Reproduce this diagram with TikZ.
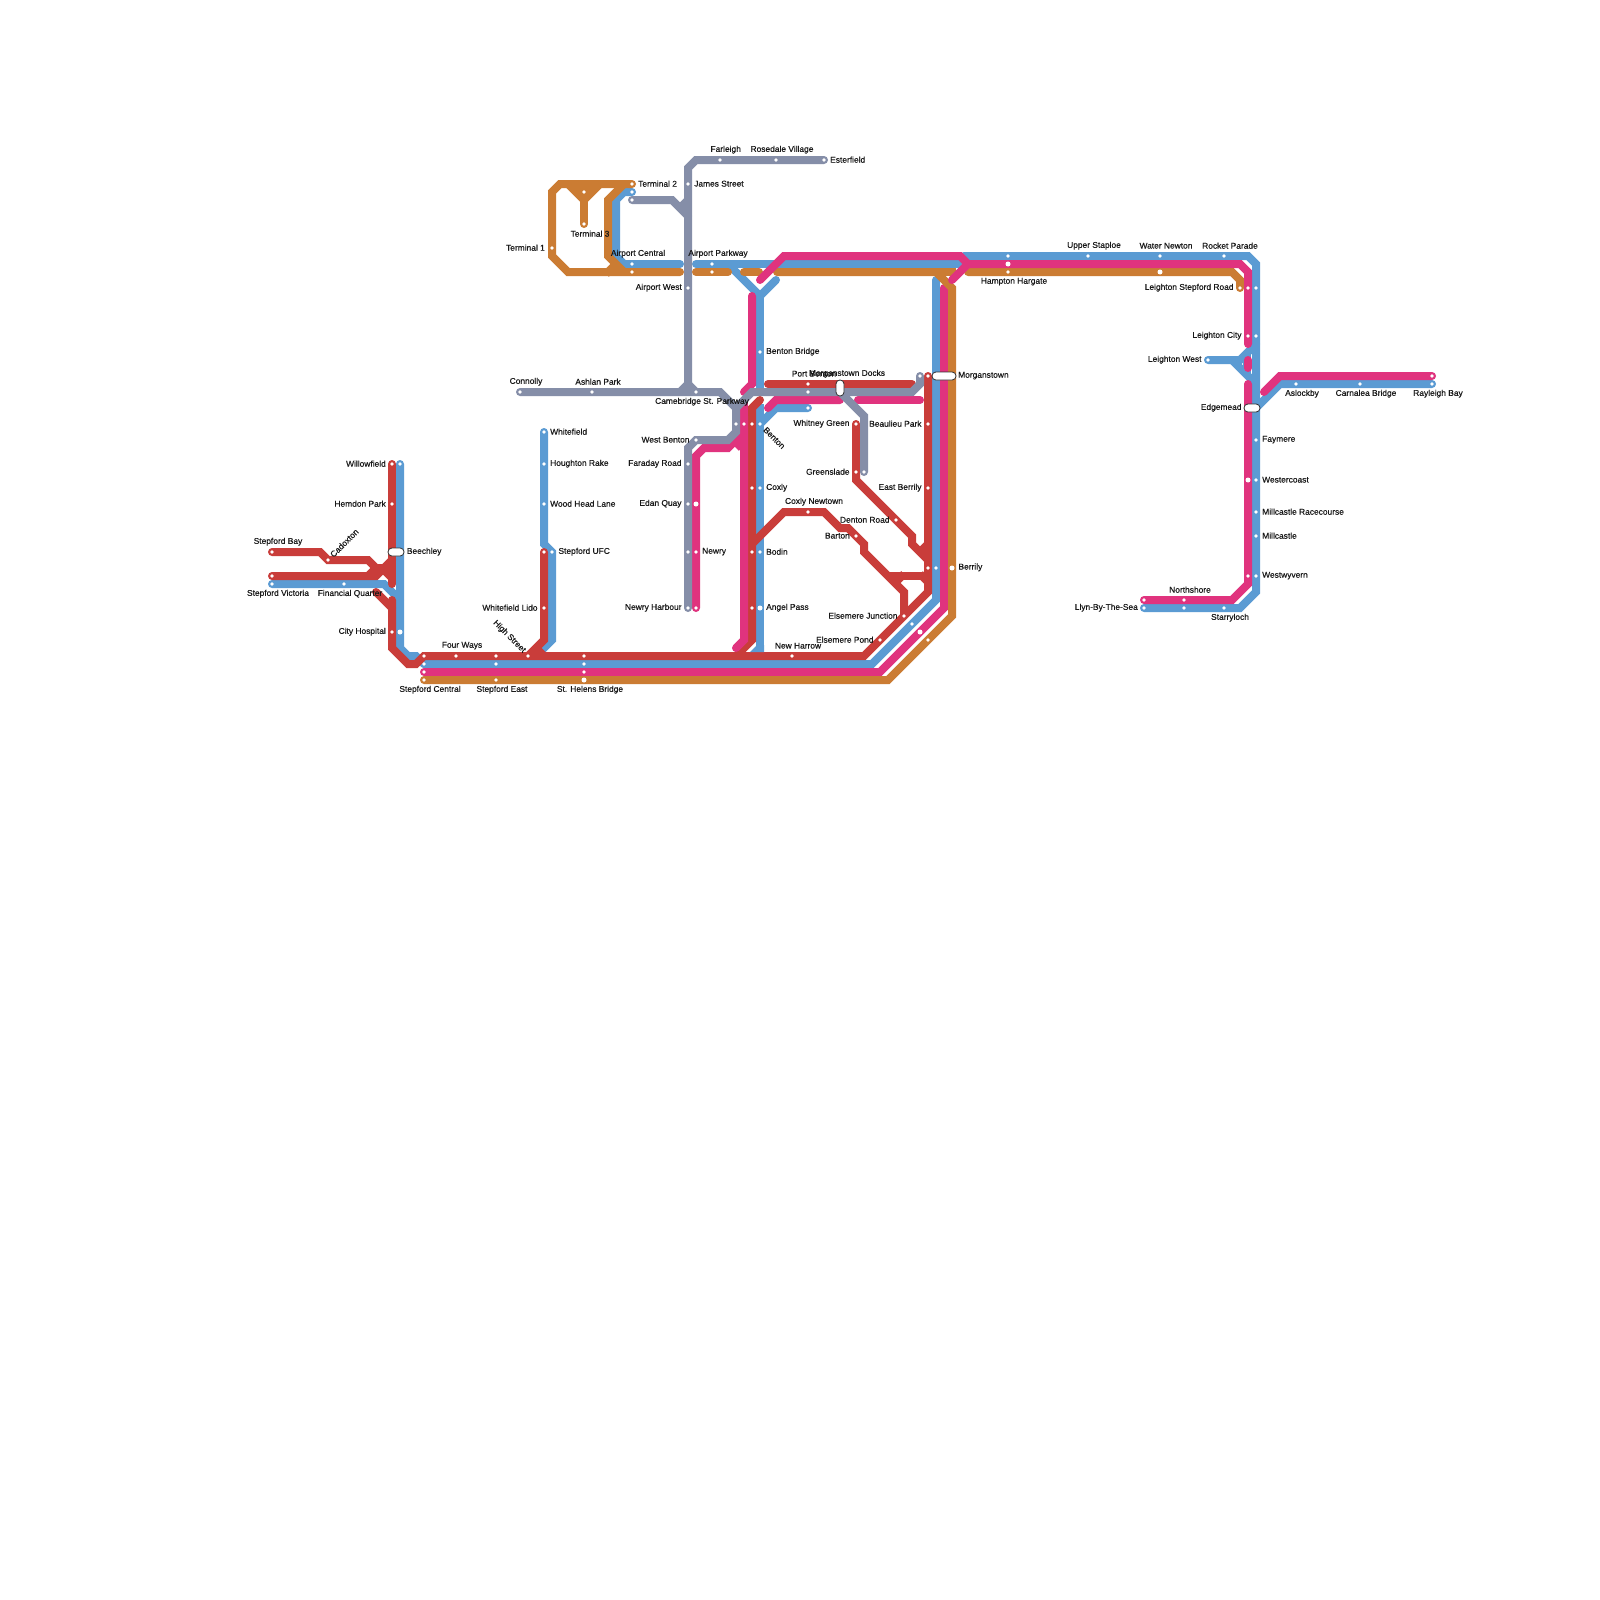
\documentclass[tikz,border=0pt]{standalone}
\usepackage{fontspec}
\newfontfamily\stnfont[FakeBold=0.45]{Liberation Sans}
\definecolor{redline}{HTML}{C93D3A}
\definecolor{blueline}{HTML}{5B9BD3}
\definecolor{pinkline}{HTML}{E0337E}
\definecolor{orangeline}{HTML}{CB7C33}
\definecolor{grayline}{HTML}{858EA8}
\begin{document}
\begin{tikzpicture}[x=1pt,y=-1pt,font=\stnfont\fontsize{8.4}{10}\selectfont,
	ln/.style={line width=8pt,line cap=round,miter limit=4},
	stub/.style={line width=8pt},
	dot/.style={circle,fill=white,inner sep=0pt,minimum size=3.6pt},
	bigdot/.style={circle,fill=white,inner sep=0pt,minimum size=5pt},
	pill/.style={draw=black!80,fill=white,line width=.8pt,rounded corners=3.9pt,inner sep=0pt},
	lbl/.style={inner sep=0pt,yshift=-.7pt,text=black!90}]
	\fill[white] (0,0) rectangle (1600,1600);
	\begin{scope}[blueline]
		\draw[ln] (272,584) -- (384,584) -- (400,600);
		\draw[ln] (400,464) -- (400,648) -- (408,656) -- (416,656) -- (424,664);
		\draw[ln] (424,664) -- (872,664) -- (936,600) -- (936,280);
		\draw[ln] (544,432) -- (544,544) -- (552,552) -- (552,640) -- (540,652);
		\draw[ln] (632,192) -- (624,192) -- (616,200) -- (616,256) -- (624,264) -- (680,264);
		\draw[ln] (696,264) -- (960,264);
		\draw[ln] (728,264) -- (760,296) -- (776,280);
		\draw[ln] (760,296) -- (760,388);
		\draw[ln] (808,408) -- (776,408) -- (760,424);
		\draw[stub] (760,404) -- (760,652);
		\draw[ln] (964,256) -- (1248,256) -- (1256,264) -- (1256,592) -- (1240,608) -- (1144,608);
		\draw[ln] (1208,360) -- (1240,360) -- (1256,344);
		\draw[stub] (1232,360) -- (1256,384);
		\draw[stub] (1247,354) -- (1247,374);
		\draw[ln] (1432,384) -- (1280,384) -- (1256,408);
	\end{scope}
	\begin{scope}[redline]
		\draw[ln] (392,464) -- (392,584);
		\draw[ln] (272,552) -- (320,552) -- (328,560) -- (368,560) -- (376,568);
		\draw[ln] (272,576) -- (376,576) -- (392,560);
		\draw[stub] (372,568) -- (392,568);
		\draw[stub] (382,568) -- (392,578);
		\draw[stub] (368,576) -- (376,568);
		\draw[ln] (376,592) -- (392,608);
		\draw[ln] (392,600) -- (392,648) -- (408,664) -- (416,664) -- (424,656) -- (864,656) -- (928,592) -- (928,376);
		\draw[ln] (544,552) -- (544,640) -- (528,656);
		\draw[stub] (536,648) -- (544,656);
		\draw[ln] (760,400) -- (752,408) -- (752,640) -- (736,656);
		\draw[ln] (752,544) -- (784,512) -- (824,512) -- (840,528) -- (848,528) -- (864,544) -- (864,552) -- (904,592) -- (904,616);
		\draw[stub] (888,576) -- (928,576);
		\draw[stub] (920,574) -- (928,582);
		\draw[stub] (896,582) -- (904,574);
		\draw[ln] (768,384) -- (912,384);
		\draw[ln] (856,424) -- (856,480) -- (912,536) -- (912,544) -- (928,560);
		\draw[stub] (928,544) -- (918,554);
	\end{scope}
	\fill[blueline] (764,652) -- (750,652) -- (757,645) -- (764,645) -- cycle;
	\begin{scope}[pinkline]
		\draw[ln] (424,672) -- (880,672) -- (944,608) -- (944,288);
		\draw[ln] (696,608) -- (696,456) -- (704,448) -- (728,448) -- (744,432);
		\draw[stub] (744,440) -- (736,448);
		\draw[stub] (744,400) -- (744,416);
		\draw[ln] (744,416) -- (744,640) -- (736,648);
		\draw[ln] (752,296) -- (752,384) -- (744,392);
		\draw[ln] (768,408) -- (776,400) -- (840,400);
		\draw[ln] (858,400) -- (920,400);
		\draw[ln] (1248,360) -- (1248,368);
		\draw[ln] (1248,384) -- (1248,584) -- (1232,600) -- (1144,600);
		\draw[ln] (1264,392) -- (1280,376) -- (1432,376);
	\end{scope}
	\begin{scope}[grayline]
		\draw[ln] (632,200) -- (672,200) -- (688,216);
		\draw[stub] (688,200) -- (680,208);
		\draw[ln] (824,160) -- (696,160) -- (688,168) -- (688,388);
		\draw[stub] (680,392) -- (688,384) -- (696,392);
		\draw[ln] (520,392) -- (720,392) -- (736,408) -- (736,432) -- (728,440) -- (696,440) -- (688,448) -- (688,608);
		\draw[ln] (736,408) -- (752,392) -- (912,392) -- (920,384) -- (920,376);
		\draw[ln] (840,392) -- (864,416) -- (864,472);
	\end{scope}
	\begin{scope}[orangeline]
		\draw[ln] (632,184) -- (560,184) -- (552,192) -- (552,256) -- (568,272) -- (680,272);
		\draw[stub] (568,184) -- (584,200) -- (600,184);
		\fill (574,186) -- (594,186) -- (584,198) -- cycle;
		\draw[ln] (584,200) -- (584,224);
		\draw[stub] (624,184) -- (608,200) -- (608,256) -- (624,272);
		\draw[stub] (618,262) -- (606,274);
		\draw[ln] (696,272) -- (728,272);
		\draw[ln] (744,272) -- (759,272);
		\draw[ln] (777,272) -- (936,272) -- (952,288) -- (952,616) -- (888,680) -- (424,680);
		\draw[stub] (936,272) -- (956,272);
		\draw[ln] (968,272) -- (1232,272) -- (1240,280) -- (1240,288);
	\end{scope}
	\draw[ln,pinkline] (760,280) -- (784,256) -- (960,256) -- (968,264) -- (1240,264) -- (1248,272) -- (1248,344);
	\draw[ln,pinkline] (952,280) -- (968,264);
	\foreach \x/\y in {392/464,400/464,392/504,392/632,328/560,272/552,272/576,272/584,344/584,
		424/656,424/664,424/672,424/680,456/656,496/656,496/664,496/680,528/656,584/656,584/664,584/672,
		544/432,544/464,544/504,544/552,552/552,544/608,552/248,
		632/184,632/192,632/200,632/264,632/272,584/192,584/224,
		688/184,720/160,776/160,824/160,688/288,712/264,712/272,760/352,
		520/392,592/392,696/392,808/384,808/392,808/408,
		736/424,744/424,752/424,760/424,696/440,688/464,688/504,688/552,688/608,696/552,696/608,
		752/488,760/488,752/552,760/552,752/608,856/424,856/472,864/472,
		808/512,896/520,856/536,928/376,920/376,928/424,928/488,928/568,936/568,
		904/616,880/640,792/656,912/624,928/640,
		1008/256,1008/272,1088/256,1160/256,1224/256,1240/288,1248/288,1256/288,1248/336,1256/336,
		1208/360,1296/384,1360/384,1432/376,1432/384,1256/440,1256/480,1256/512,1256/536,1248/576,1256/576,
		1144/600,1184/600,1144/608,1184/608,1224/608}
		\node[dot] (s\x-\y) at (\x,\y) {};
	\foreach \x/\y in {400/632,584/680,696/504,760/608,920/632,952/568,1008/264,1160/272,1248/480}
		\node[bigdot] (s\x-\y) at (\x,\y) {};
	\node[pill,minimum width=16pt,minimum height=8pt] (beechley) at (396,552) {};
	\node[pill,minimum width=24pt,minimum height=8pt] (morganstown) at (944,376) {};
	\node[pill,minimum width=16pt,minimum height=8pt] (edgemead) at (1252,408) {};
	\node[pill,minimum width=8pt,minimum height=16pt] (docks) at (840,388) {};
	\foreach \n/\x/\y/\s in {a1/386/463/Willowfield,a2/386/503/Hemdon Park,a3/386/631/City Hospital,a4/537.7/607/Whitefield Lido,
		a5/545/247/Terminal 1,a6/682/287/Airport West,a7/689.7/439/West Benton,a8/681.7/463/Faraday Road,a9/681.7/503/Edan Quay,
		a10/681.7/607/Newry Harbour,a11/849.7/423/Whitney Green,a12/849.7/471/Greenslade,a13/921.7/423/Beaulieu Park,
		a14/921.7/487/East Berrily,a15/889.7/519/Denton Road,a16/850/535/Barton,a17/897.7/615/Elsemere Junction,
		a18/873.7/639/Elsemere Pond,a19/1233.7/287/Leighton Stepford Road,a20/1241.7/335/Leighton City,
		a21/1201.7/359/Leighton West,a22/1241.7/407/Edgemead,a23/1138/607/Llyn-By-The-Sea}
		\node[lbl,anchor=east] (\n) at (\x,\y) {\s};
	\foreach \n/\x/\y/\s in {b1/406.7/551/Beechley,b2/550/431/Whitefield,b3/550/463/Houghton Rake,b4/550/503/Wood Head Lane,
		b5/558.3/551/Stepford UFC,b6/638/183/Terminal 2,b7/694/183/James Street,b8/830/159/Esterfield,b9/766/351/Benton Bridge,
		b10/702/551/Newry,b11/766/487/Coxly,b12/766/551/Bodin,b13/766/607/Angel Pass,b14/958.3/566.7/Berrily,b15/958/375/Morganstown,
		b16/1262/439/Faymere,b17/1262/479/Westercoast,b18/1262/511/Millcastle Racecourse,b19/1262/535/Millcastle,b20/1262/575/Westwyvern}
		\node[lbl,anchor=west] (\n) at (\x,\y) {\s};
	\foreach \n/\x/\y/\s in {c1/278/541/Stepford Bay,c2/278/593/Stepford Victoria,c3/350/593/Financial Quarter,c4/462/645/Four Ways,
		c5/430/689/Stepford Central,c6/502/689/Stepford East,c7/590/689/St. Helens Bridge,c8/590/233/Terminal 3,c9/638/253/Airport Central,
		c10/718/253/Airport Parkway,c11/725.7/149/Farleigh,c12/782/149/Rosedale Village,c13/526/381/Connolly,c14/598/381/Ashlan Park,
		c15/702/401/Camebridge St. Parkway,c16/814/501/Coxly Newtown,c17/798/645/New Harrow,c18/814/373/Port Benton,c19/847/373/Morganstown Docks,
		c20/1014/281/Hampton Hargate,c21/1094/245/Upper Staploe,c22/1166/245/Water Newton,c23/1230/245/Rocket Parade,c24/1302/393/Aslockby,
		c25/1366/393/Carnalea Bridge,c26/1438/393/Rayleigh Bay,c27/1190/589/Northshore,c28/1230/617/Starryloch}
		\node[lbl] (\n) at (\x,\y) {\s};
	\node[lbl,rotate=45] (cadoxton) at (344.3,542.3) {Cadoxton};
	\node[lbl,rotate=-45] (highstreet) at (509.3,636) {High Street};
	\node[lbl,rotate=-45] (benton) at (774.3,437.3) {Benton};
\end{tikzpicture}
\end{document}
